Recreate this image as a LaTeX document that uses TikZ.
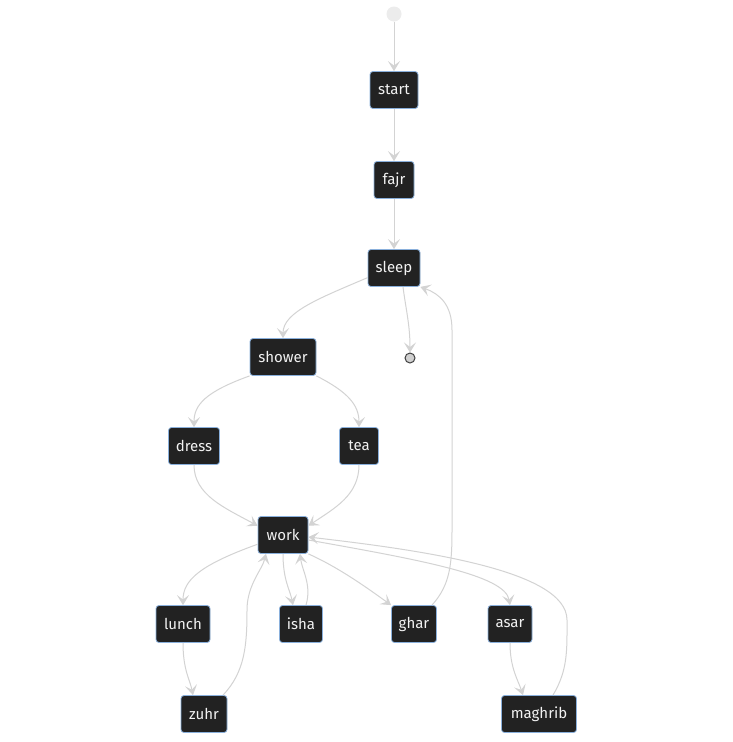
\documentclass[tikz,border=0pt]{standalone}
\usepackage{fontspec}
\setmainfont{Fira Sans}
\usetikzlibrary{arrows.meta}
\definecolor{nodefill}{HTML}{222222}
\definecolor{nodeborder}{HTML}{8AB0DC}
\definecolor{edgecol}{HTML}{D3D3D3}
\definecolor{textcol}{HTML}{F2F2F2}
\definecolor{initcol}{HTML}{ECECEC}
\definecolor{endfill}{HTML}{D0D0D0}
\begin{document}
\begin{tikzpicture}[x=1pt,y=-1pt,
  state/.style={draw=nodeborder, fill=nodefill, rounded corners=3pt, text=textcol,
    font=\fontsize{15}{17}\selectfont, minimum height=37pt, inner sep=0pt, line width=0.8pt},
  edge/.style={draw=edgecol, line width=1pt,
    -{Stealth[length=10pt,width=12pt,inset=4.5pt,fill=edgecol]}}]
\useasboundingbox[fill=white] (0,0) rectangle (732,742);

\node[circle, fill=initcol, minimum size=15pt, inner sep=0pt] (init) at (394,14) {};
\node[state, minimum width=48pt] (start) at (394,90) {start};
\node[state, minimum width=40pt] (fajr) at (394,180) {fajr};
\node[state, minimum width=52pt] (sleep) at (394,268) {sleep};
\node[state, minimum width=66pt] (shower) at (283,357) {shower};
\node[state, minimum width=51pt] (dress) at (194,446) {dress};
\node[state, minimum width=39pt] (tea) at (359,446) {tea};
\node[state, minimum width=50pt] (work) at (283,535) {work};
\node[state, minimum width=54pt] (lunch) at (183,624) {lunch};
\node[state, minimum width=43pt] (isha) at (301,624) {isha};
\node[state, minimum width=45pt] (ghar) at (414,624) {ghar};
\node[state, minimum width=44pt] (asar) at (510,624) {asar};
\node[state, minimum width=46pt] (zuhr) at (204,714) {zuhr};
\node[state, minimum width=75pt] (maghrib) at (539,714) {maghrib};
\node[circle, draw=black!75, fill=endfill, minimum size=10pt, inner sep=0pt, line width=1pt] (end) at (410,358) {};

\draw[edge] (init) -- (start);
\draw[edge] (start) -- (fajr);
\draw[edge] (fajr) -- (sleep);
\draw[edge] (sleep.200) .. controls (320,298) and (283,312) .. (shower.north);
\draw[edge] ([xshift=9pt]sleep.south) .. controls (406,310) and (410,325) .. (end.north);
\draw[edge] ([xshift=18pt]ghar.north) .. controls (450,585) and (452,565) .. (452,530)
  -- (452,330) .. controls (452,305) and (440,294) .. (sleep.south east);
\draw[edge] (shower.south west) .. controls (205,392) and (194,405) .. (dress.north);
\draw[edge] (shower.south east) .. controls (348,392) and (359,405) .. (tea.north);
\draw[edge] (dress.south) .. controls (194,495) and (225,508) .. (work.160);
\draw[edge] (tea.south) .. controls (359,495) and (335,508) .. (work.20);
\draw[edge] (work.200) .. controls (200,565) and (183,580) .. (lunch.north);
\draw[edge] (work.south) .. controls (283,580) and (290,590) .. ([xshift=-8pt]isha.north);
\draw[edge] ([xshift=5pt]isha.north) .. controls (312,585) and (302,570) .. ([xshift=17pt]work.south);
\draw[edge] (work.south east) .. controls (340,568) and (370,590) .. (ghar.north west);
\draw[edge] ([yshift=-5pt]work.east) .. controls (420,560) and (505,575) .. (asar.north);
\draw[edge] ([xshift=14pt]maghrib.north) .. controls (568,670) and (567,650) .. (567,620)
  .. controls (567,570) and (420,550) .. ([yshift=-2pt]work.east);
\draw[edge] (lunch.south) .. controls (183,670) and (190,680) .. ([xshift=-11pt]zuhr.north);
\draw[edge] ([xshift=19pt]zuhr.north) .. controls (245,672) and (247,645) .. (247,610)
  .. controls (247,585) and (262,570) .. ([xshift=-17pt]work.south);
\draw[edge] (asar.south) .. controls (510,668) and (518,680) .. ([xshift=-16pt]maghrib.north);
\end{tikzpicture}
\end{document}
